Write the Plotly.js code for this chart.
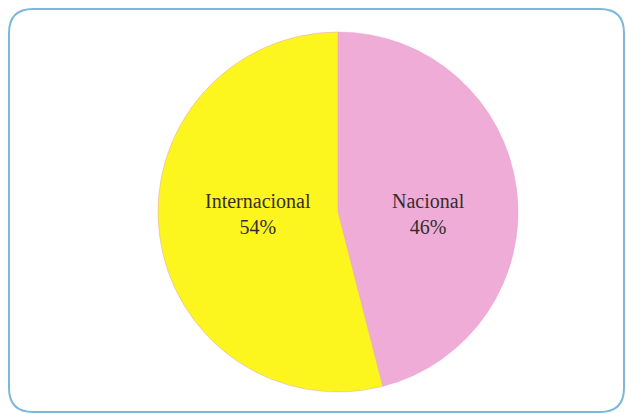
<!DOCTYPE html>
<html>
<head>
<meta charset="utf-8">
<script src="https://cdn.plot.ly/plotly-3.0.1.min.js"></script>
<style>html,body{margin:0;padding:0;background:#fff;}#chart{width:626px;height:414px;}</style>
</head>
<body>
<div id="chart"></div>
<script>
const labels = ["Nacional", "Internacional"];
const values = [46, 54];
const colors = ["#efacd6", "#fcf61e"];

const W = 626, H = 414;
function px(x){return (x/W).toFixed(5);}
function py(y){return (1 - y/H).toFixed(5);}
// rounded border
const L = 9, T = 9, R = 624, B = 412, r = 24;
const path = [
  "M", px(L+r), py(T),
  "L", px(R-r), py(T),
  "Q", px(R), py(T), px(R), py(T+r),
  "L", px(R), py(B-r),
  "Q", px(R), py(B), px(R-r), py(B),
  "L", px(L+r), py(B),
  "Q", px(L), py(B), px(L), py(B-r),
  "L", px(L), py(T+r),
  "Q", px(L), py(T), px(L+r), py(T), "Z"
].join(" ");

const serif = "Liberation Serif, DejaVu Serif, serif";

const trace = {
  type: "pie",
  labels: labels,
  values: values,
  sort: false,
  direction: "clockwise",
  rotation: 0,
  marker: {colors: colors, line: {color: "#e6a0c8", width: 0.5}},
  textinfo: "none",
  hoverinfo: "label+percent",
  domain: {x: [158/W, 518/W], y: [22/H, 382/H]},
  showlegend: false
};

// label positions (paper px) for each slice's data label
const labelPos = [[428, 214], [258, 214]];
const total = values.reduce((a, b) => a + b, 0);
const annotations = labels.map((lab, i) => ({
  xref: "paper", yref: "paper",
  x: labelPos[i][0] / W, y: 1 - labelPos[i][1] / H,
  xanchor: "center", yanchor: "middle",
  showarrow: false,
  text: lab + "<br>" + Math.round(values[i] / total * 100) + "%",
  font: {family: serif, size: 20, color: "#342e2e"}
}));

const layout = {
  width: W, height: H,
  margin: {l: 0, r: 0, t: 0, b: 0},
  paper_bgcolor: "#ffffff",
  plot_bgcolor: "#ffffff",
  showlegend: false,
  annotations: annotations,
  shapes: [{
    type: "path", xref: "paper", yref: "paper",
    path: path,
    line: {color: "#7ab8dc", width: 2},
    fillcolor: "rgba(0,0,0,0)",
    layer: "below"
  }]
};

Plotly.newPlot("chart", [trace], layout, {displayModeBar: false, staticPlot: true});
</script>
</body>
</html>
